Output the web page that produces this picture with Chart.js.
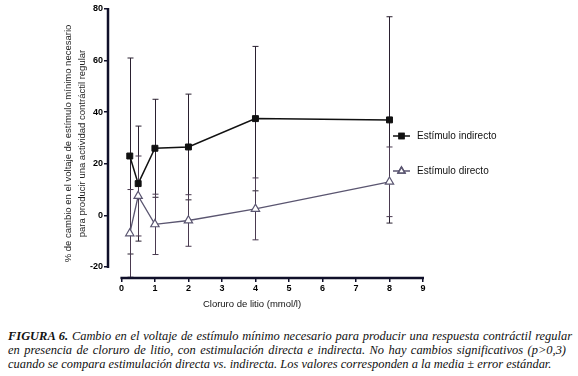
<!DOCTYPE html>
<html>
<head>
<meta charset="utf-8">
<script src="https://cdn.jsdelivr.net/npm/chart.js@4.4.0/dist/chart.umd.min.js"></script>
<style>
  body { margin: 0; background: #fff; width: 578px; height: 376px; overflow: hidden; position: relative; }
  #wrap { position: absolute; left: 0; top: 0; width: 578px; height: 322px; }
  #caption {
    position: absolute; left: 8px; top: 329px; width: 564px; white-space: nowrap;
    font-family: "Liberation Serif", "Times New Roman", serif;
    font-style: italic; font-size: 12.45px; line-height: 14px; color: #111;
  }
  #caption .j { text-align: justify; text-align-last: justify; }
  #caption .j2 { width: 558px; text-align: justify; text-align-last: justify; }
  #caption b { font-weight: bold; }
</style>
</head>
<body>
<div id="wrap"><canvas id="myChart" width="578" height="322"></canvas></div>
<div id="caption">
  <div class="j"><b>FIGURA 6.</b> Cambio en el voltaje de estímulo mínimo necesario para producir una respuesta contráctil regular</div>
  <div class="j2">en presencia de cloruro de litio, con estimulación directa e indirecta. No hay cambios significativos (p&gt;0,3)</div>
  <div>cuando se compara estimulación directa vs. indirecta. Los valores corresponden a la media ± error estándar.</div>
</div>
<script>
// concentraciones de LiCl (mmol/l)
var dosis = [0.25, 0.5, 1, 2, 4, 8];

// media y error estandar, estimulo indirecto
var indirecto = [23, 12.3, 26, 26.5, 37.5, 37];
var indirectoEE = [38, 22.3, 19, 20.5, 28, 40];

// media y error estandar, estimulo directo
var directo = [-7, 7.5, -3.5, -2, 2.5, 13];
var directoEE = [17, 15.5, 11.7, 10, 12, 13.5];

var xTicks = [0, 1, 2, 3, 4, 5, 6, 7, 8, 9];
var yTicks = [-20, 0, 20, 40, 60, 80];

var xTitle = "Cloruro de litio (mmol/l)";
var yTitle = ["% de cambio en el voltaje de estímulo mínimo necesario",
              "para producir una actividad contráctil regular"];

function toPoints(xs, ys) {
    var pts = [];
    for (var i = 0; i < xs.length; i++) {
        pts.push({x: xs[i], y: ys[i]});
    }
    return pts;
}

// barras de error (media +/- EE)
var errorBars = {
    id: 'errorBars',
    beforeDatasetsDraw: function (chart) {
        var ctx = chart.ctx;
        var xs = chart.scales.x, ys = chart.scales.y;
        chart.data.datasets.forEach(function (ds) {
            ctx.save();
            ctx.strokeStyle = ds.errorColor;
            ctx.lineWidth = 1;
            ds.data.forEach(function (p, i) {
                var px = Math.round(xs.getPixelForValue(p.x)) + 0.5;
                var top = ys.getPixelForValue(p.y + ds.errors[i]);
                var bot = ys.getPixelForValue(p.y - ds.errors[i]);
                ctx.beginPath();
                ctx.moveTo(px, top); ctx.lineTo(px, bot);
                ctx.moveTo(px - 3, top); ctx.lineTo(px + 3, top);
                ctx.moveTo(px - 3, bot); ctx.lineTo(px + 3, bot);
                ctx.stroke();
            });
            ctx.restore();
        });
    }
};

// ejes separados estilo Prism, titulo X y leyenda
var axesAndLegend = {
    id: 'axesAndLegend',
    afterDraw: function (chart) {
        var ctx = chart.ctx;
        var xs = chart.scales.x, ys = chart.scales.y;
        var area = chart.chartArea;
        ctx.save();
        ctx.strokeStyle = '#10102a';
        ctx.lineWidth = 2.5;
        ctx.beginPath();
        ctx.moveTo(area.left, ys.getPixelForValue(80) - 1);
        ctx.lineTo(area.left, ys.getPixelForValue(-20) + 1);
        ctx.moveTo(xs.getPixelForValue(0) - 1, area.bottom);
        ctx.lineTo(xs.getPixelForValue(9) + 1, area.bottom);
        ctx.stroke();

        ctx.fillStyle = '#111';
        ctx.font = '9.5px Arial, "Liberation Sans"';
        ctx.textAlign = 'center';
        ctx.textBaseline = 'middle';
        ctx.fillText(xTitle, 252, 304);

        // leyenda
        var lx = 393, ly = 136;
        chart.data.datasets.forEach(function (ds, i) {
            var y = ly + i * 35;
            ctx.strokeStyle = ds.borderColor;
            ctx.lineWidth = 1.5;
            ctx.beginPath();
            ctx.moveTo(lx, y); ctx.lineTo(lx + 17, y);
            ctx.stroke();
            Chart.helpers.drawPoint(ctx, {
                pointStyle: ds.pointStyle, radius: ds.pointRadius - 0.8,
                borderWidth: ds.borderWidth, rotation: 0
            }, lx + 8.5, y);
            ctx.fillStyle = ds.backgroundColor;
            ctx.strokeStyle = ds.borderColor;
            ctx.fill();
            ctx.stroke();
            ctx.fillStyle = '#111';
            ctx.textAlign = 'left';
            ctx.font = '10px Arial, "Liberation Sans"';
            ctx.fillText(ds.label, lx + 24, y);
        });
        ctx.restore();
    }
};

var tickFont = {family: 'Arial, "Liberation Sans"', size: 9, weight: 'bold'};

var ctx = document.getElementById('myChart').getContext('2d');
var chart = new Chart(ctx, {
    type: 'scatter',
    data: {
        datasets: [{
            label: "Estímulo indirecto",
            data: toPoints(dosis, indirecto),
            errors: indirectoEE,
            errorColor: '#2a2030',
            showLine: true,
            borderColor: '#111',
            backgroundColor: '#111',
            borderWidth: 1.5,
            pointStyle: 'rect',
            pointRadius: 4.2,
            pointBorderWidth: 1
        }, {
            label: "Estímulo directo",
            data: toPoints(dosis, directo),
            errors: directoEE,
            errorColor: '#4a3a50',
            showLine: true,
            borderColor: '#5a5570',
            backgroundColor: '#fff',
            borderWidth: 1.3,
            pointStyle: 'triangle',
            pointRadius: 4.8,
            pointBorderWidth: 1.2
        }]
    },
    plugins: [errorBars, axesAndLegend],
    options: {
        responsive: false,
        animation: false,
        layout: {padding: {left: 0, top: 9, right: 155, bottom: 0}},
        plugins: {legend: {display: false}, tooltip: {enabled: false}},
        scales: {
            x: {
                type: 'linear',
                min: -0.4,
                max: 9,
                afterBuildTicks: function (s) { s.ticks = xTicks.map(function (v) { return {value: v}; }); },
                afterFit: function (s) { s.height = 44; },
                grid: {drawOnChartArea: false, drawTicks: true, tickLength: 4, color: '#10102a', lineWidth: 1.5},
                border: {display: false},
                ticks: {padding: 1, color: '#000', font: tickFont, maxRotation: 0}
            },
            y: {
                min: -24.3,
                max: 80,
                afterBuildTicks: function (s) { s.ticks = yTicks.map(function (v) { return {value: v}; }); },
                afterFit: function (s) { s.width = 108; },
                grid: {drawOnChartArea: false, drawTicks: true, tickLength: 4, color: '#10102a', lineWidth: 1.5},
                border: {display: false},
                ticks: {padding: 1, color: '#000', font: tickFont},
                title: {
                    display: true,
                    text: yTitle,
                    color: '#222',
                    padding: {top: 61, bottom: 0},
                    font: {family: 'Arial, "Liberation Sans"', size: 9.5, lineHeight: '14px'}
                }
            }
        }
    }
});
</script>
</body>
</html>
